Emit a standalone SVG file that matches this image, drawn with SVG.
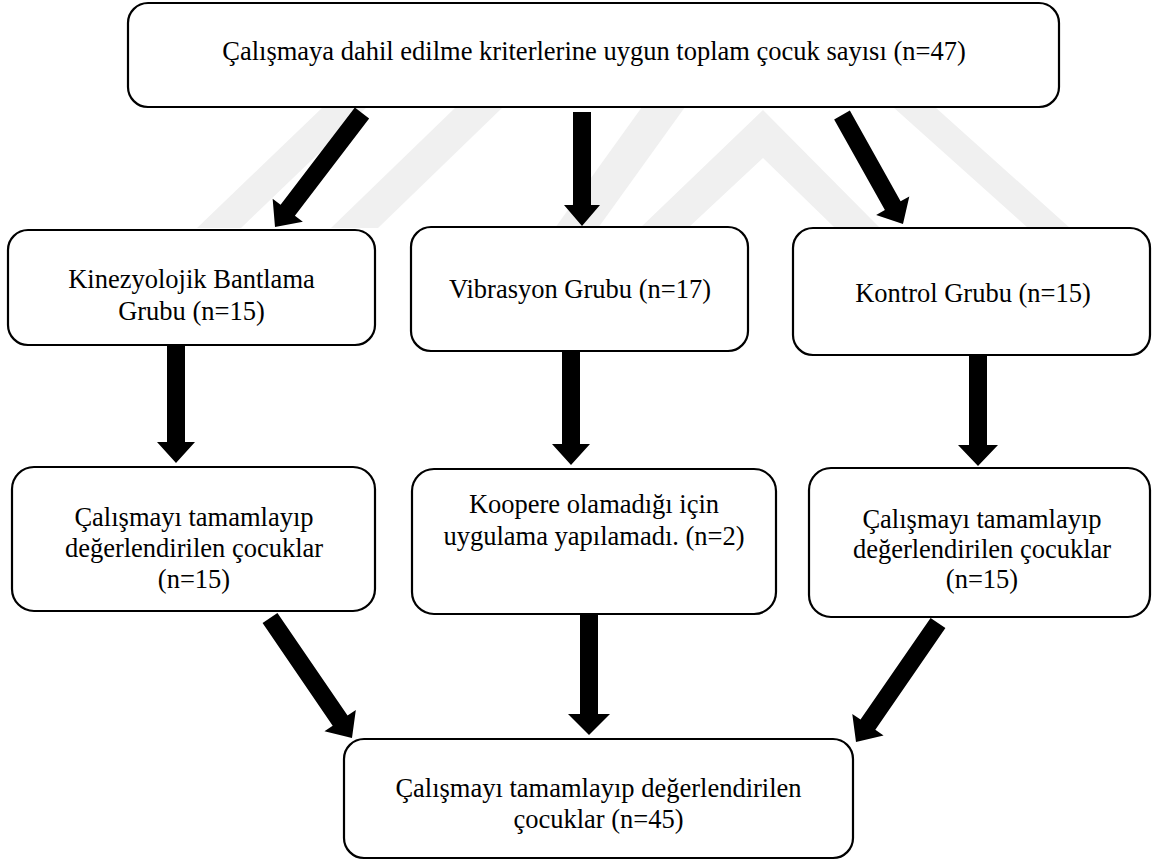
<svg xmlns="http://www.w3.org/2000/svg" width="1152" height="861" viewBox="0 0 1152 861">
<style>
.box{fill:#fff;stroke:#000;stroke-width:2.2}
.t{font-family:"Liberation Serif","Times New Roman",serif;font-size:26.5px;fill:#000;text-anchor:middle}
.arr{fill:#000}
.wm{fill:#f0f0f0}
</style>
<rect width="1152" height="861" fill="#fff"/>
<g id="watermark">
<polygon class="wm" points="197,228 241,228 367,107 323,107"/>
<polygon class="wm" points="331,228 378,228 503,107 456,107"/>
<polygon class="wm" points="555,228 598,228 685,107 642,107"/>
<polygon class="wm" points="640,228 763,110 880,228 835,228 763,158 688,228"/>
<polygon class="wm" points="893,107 935,107 1070,228 1028,228"/>
</g>
<g id="connectors">
<polygon class="arr" transform="translate(362,113) rotate(127.35)" points="0,-9 122.4,-9 122.4,-19 143.4,0 122.4,19 122.4,9 0,9"/>
<polygon class="arr" transform="translate(582,112) rotate(90)" points="0,-9 93,-9 93,-18 114,0 93,18 93,9 0,9"/>
<polygon class="arr" transform="translate(842,115) rotate(60.77)" points="0,-9 103.9,-9 103.9,-19 124.9,0 103.9,19 103.9,9 0,9"/>
<polygon class="arr" transform="translate(176,346) rotate(90)" points="0,-9 96,-9 96,-19 117,0 96,19 96,9 0,9"/>
<polygon class="arr" transform="translate(571,351) rotate(90)" points="0,-9 93,-9 93,-19 114,0 93,19 93,9 0,9"/>
<polygon class="arr" transform="translate(978,356) rotate(90)" points="0,-9 89,-9 89,-20 110,0 89,20 89,9 0,9"/>
<polygon class="arr" transform="translate(270,618) rotate(55.65)" points="0,-9 124.3,-9 124.3,-19 145.3,0 124.3,19 124.3,9 0,9"/>
<polygon class="arr" transform="translate(589,615) rotate(90)" points="0,-9 99,-9 99,-21 120,0 99,21 99,9 0,9"/>
<polygon class="arr" transform="translate(938,623) rotate(124.57)" points="0,-9 123.5,-9 123.5,-19 144.5,0 123.5,19 123.5,9 0,9"/>
</g>
<g id="n_total">
<rect class="box" x="128" y="3" width="931" height="104" rx="20"/>
<text class="t" x="594" y="60">Çalışmaya dahil edilme kriterlerine uygun toplam çocuk sayısı (n=47)</text>
</g>
<g id="n_kinezyo">
<rect class="box" x="8" y="230" width="367" height="115" rx="20"/>
<text class="t" x="191.5" y="288">Kinezyolojik Bantlama</text>
<text class="t" x="191.5" y="320">Grubu (n=15)</text>
</g>
<g id="n_vibrasyon">
<rect class="box" x="411" y="227" width="337" height="124" rx="20"/>
<text class="t" x="580" y="298">Vibrasyon Grubu (n=17)</text>
</g>
<g id="n_kontrol">
<rect class="box" x="793" y="228" width="357" height="127" rx="20"/>
<text class="t" x="973" y="302">Kontrol Grubu (n=15)</text>
</g>
<g id="n_kinezyo_done">
<rect class="box" x="12" y="467" width="363" height="144" rx="22"/>
<text class="t" x="194" y="526">Çalışmayı tamamlayıp</text>
<text class="t" x="194" y="557">değerlendirilen çocuklar</text>
<text class="t" x="194" y="588">(n=15)</text>
</g>
<g id="n_vibrasyon_excl">
<rect class="box" x="412" y="469" width="364" height="145" rx="22"/>
<text class="t" x="594" y="513">Koopere olamadığı için</text>
<text class="t" x="594" y="545">uygulama yapılamadı. (n=2)</text>
</g>
<g id="n_kontrol_done">
<rect class="box" x="809" y="468" width="341" height="149" rx="22"/>
<text class="t" x="982" y="528">Çalışmayı tamamlayıp</text>
<text class="t" x="982" y="558">değerlendirilen çocuklar</text>
<text class="t" x="982" y="588">(n=15)</text>
</g>
<g id="n_final">
<rect class="box" x="344" y="739" width="509" height="119" rx="20"/>
<text class="t" x="598.5" y="797">Çalışmayı tamamlayıp değerlendirilen</text>
<text class="t" x="598.5" y="828">çocuklar (n=45)</text>
</g>
</svg>
